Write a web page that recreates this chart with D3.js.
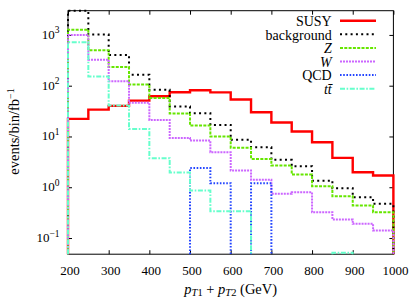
<!DOCTYPE html>
<html><head><meta charset="utf-8">
<script src="https://cdn.jsdelivr.net/npm/d3@7"></script>
<style>
body{margin:0;background:#fff}
svg{display:block}
text{font-family:"Liberation Serif","Times New Roman",serif;fill:#000}
</style>
</head><body>
<svg id="c" width="415" height="304"></svg>
<script>
// ---- data ----
const binLow = [200,250,300,350,400,450,500,550,600,650,700,750,800,850,900,950];
const binWidth = 50;
const susy       = [22.2,33.8,40,50.9,61.8,74.1,81.5,74,53.3,29.9,18.8,12.5,7.69,3.79,1.97,1.70];
const background = [2990,1014,404,165,83,39,28.6,16.9,8.57,6.13,3.46,2.59,1.35,0.955,0.636,0.471];
const zBoson     = [1270,500,234,105,57.5,28.5,16.4,9.96,5.97,3.62,2.67,1.78,1.05,0.665,0.436,0.322];
const wBoson     = [1000,326,122,45.9,21.2,9.38,8.3,4.89,2.13,1.40,0.741,0.797,0.322,0.231,0.19,0.14];
const qcd        = [0,0,0,0,0,0,2.39,1.20,0,1.20,0,0,0,0,0,0];
const ttbar      = [715,151,40.6,14.1,3.72,1.95,0.861,0.337,0.337,0,0,0,0,0.051,0,0];
const xTickValues = [200,300,400,500,600,700,800,900,1000];
const yTickExponents = [-1,0,1,2,3];
const legendLabels = ["SUSY","background","Z","W","QCD","tt\u0304"];
const legendItalic = [false,false,true,true,false,true];

// ---- layout ----
const L = 68, R = 393.4, T = 10.7, B = 254.2;
const FONT = '"Liberation Serif","Times New Roman",serif';
const svg = d3.select("#c");
const x = d3.scaleLinear().domain([200,1000]).range([L,R]);
const y = d3.scaleLog().domain([0.048,3000]).range([B,T]);

// border
svg.append("rect").attr("x",L).attr("y",T).attr("width",R-L).attr("height",B-T)
  .attr("fill","none").attr("stroke","#000").attr("stroke-width",1);

function styleAxis(g){
  g.attr("font-family",FONT);
  g.select(".domain").remove();
  g.selectAll(".tick line").attr("stroke","#000").attr("stroke-width",1);
}
// bottom
const gB = svg.append("g").attr("transform",`translate(0,${B})`)
  .call(d3.axisBottom(x).tickValues(xTickValues).tickSize(-4).tickPadding(12).tickFormat(d3.format("d")));
styleAxis(gB);
gB.selectAll(".tick text").attr("font-size",13).attr("dx",1.5);
// top
const gT = svg.append("g").attr("transform",`translate(0,${T})`)
  .call(d3.axisTop(x).tickValues(xTickValues).tickSize(-4).tickFormat(""));
styleAxis(gT);
// left / right
const yTickVals = yTickExponents.map(e=>Math.pow(10,e));
const gL = svg.append("g").attr("transform",`translate(${L},0)`)
  .call(d3.axisLeft(y).tickValues(yTickVals).tickSize(-4).tickFormat(""));
styleAxis(gL);
const gR = svg.append("g").attr("transform",`translate(${R},0)`)
  .call(d3.axisRight(y).tickValues(yTickVals).tickSize(-4).tickFormat(""));
styleAxis(gR);

// y tick labels 10^n
yTickExponents.forEach(e=>{
  const t = svg.append("text").attr("x",L-8.5).attr("y",y(Math.pow(10,e))+4)
    .attr("text-anchor","end").attr("font-size",13).attr("font-family",FONT);
  t.append("tspan").text("10");
  t.append("tspan").attr("dy",-5.5).attr("font-size",9.5).text(e<0?"\u2212"+(-e):String(e));
});

// axis titles
const yt = svg.append("text").attr("transform","translate(19,131.5) rotate(-90)")
  .attr("text-anchor","middle").attr("font-size",14.5).attr("font-family",FONT);
yt.append("tspan").text("events/bin/fb");
yt.append("tspan").attr("dy",-5.5).attr("font-size",10).text("\u22121");

const xt = svg.append("text").attr("x",230.7).attr("y",293.5).attr("text-anchor","middle")
  .attr("font-size",14.5).attr("font-family",FONT);
xt.append("tspan").attr("font-style","italic").text("p");
xt.append("tspan").attr("dy",2.5).attr("font-size",10.5).attr("font-style","italic").text("T");
xt.append("tspan").attr("font-size",10.5).text("1");
xt.append("tspan").attr("dy",-2.5).text(" + ");
xt.append("tspan").attr("font-style","italic").text("p");
xt.append("tspan").attr("dy",2.5).attr("font-size",10.5).attr("font-style","italic").text("T");
xt.append("tspan").attr("font-size",10.5).text("2");
xt.append("tspan").attr("dy",-2.5).text(" (GeV)");

// ---- series ----
const series = [
  {vals:susy, color:"#ff0000", w:2.4, dash:null},
  {vals:background, color:"#000000", w:2, dash:"2,3.3"},
  {vals:zBoson, color:"#66e600", w:2, dash:"3,1.3"},
  {vals:wBoson, color:"#cc66ff", w:2, dash:"2,1"},
  {vals:qcd, color:"#2244ff", w:2, dash:"1.6,1.6"},
  {vals:ttbar, color:"#66ffcc", w:2, dash:"5,1.6,1.6,1.6"},
];
const yMin = y.domain()[0], yMax = y.domain()[1];
function stepPath(vals){
  const p = d3.path();
  let down = false;
  vals.forEach((v,i)=>{
    const x0 = x(binLow[i]), x1 = x(binLow[i]+binWidth);
    if (v > 0){
      const yv = y(Math.max(yMin, Math.min(yMax, v)));
      if(!down){ p.moveTo(x0, B); down = true; }
      p.lineTo(x0, yv); p.lineTo(x1, yv);
    } else if (down){
      p.lineTo(x0, B); down = false;
    }
  });
  if(down) p.lineTo(x(binLow[binLow.length-1]+binWidth), B);
  return p.toString();
}
series.forEach(s=>{
  svg.append("path").attr("d",stepPath(s.vals)).attr("fill","none")
    .attr("stroke",s.color).attr("stroke-width",s.w)
    .attr("stroke-dasharray",s.dash).attr("stroke-linejoin","miter");
});

// ---- legend ----
const legendRows = [20.7,34.3,47.9,61.5,75.1,88.7];
series.forEach((s,i)=>{
  const yy = legendRows[i];
  svg.append("line").attr("x1",340).attr("x2",376).attr("y1",yy).attr("y2",yy)
    .attr("stroke",s.color).attr("stroke-width",s.w).attr("stroke-dasharray",s.dash);
  svg.append("text").attr("x",331.7).attr("y",yy+5.2).attr("text-anchor","end")
    .attr("font-size",14).attr("font-family",FONT)
    .attr("font-style",legendItalic[i]?"italic":null)
    .text(legendLabels[i]);
});
</script>
</body></html>
